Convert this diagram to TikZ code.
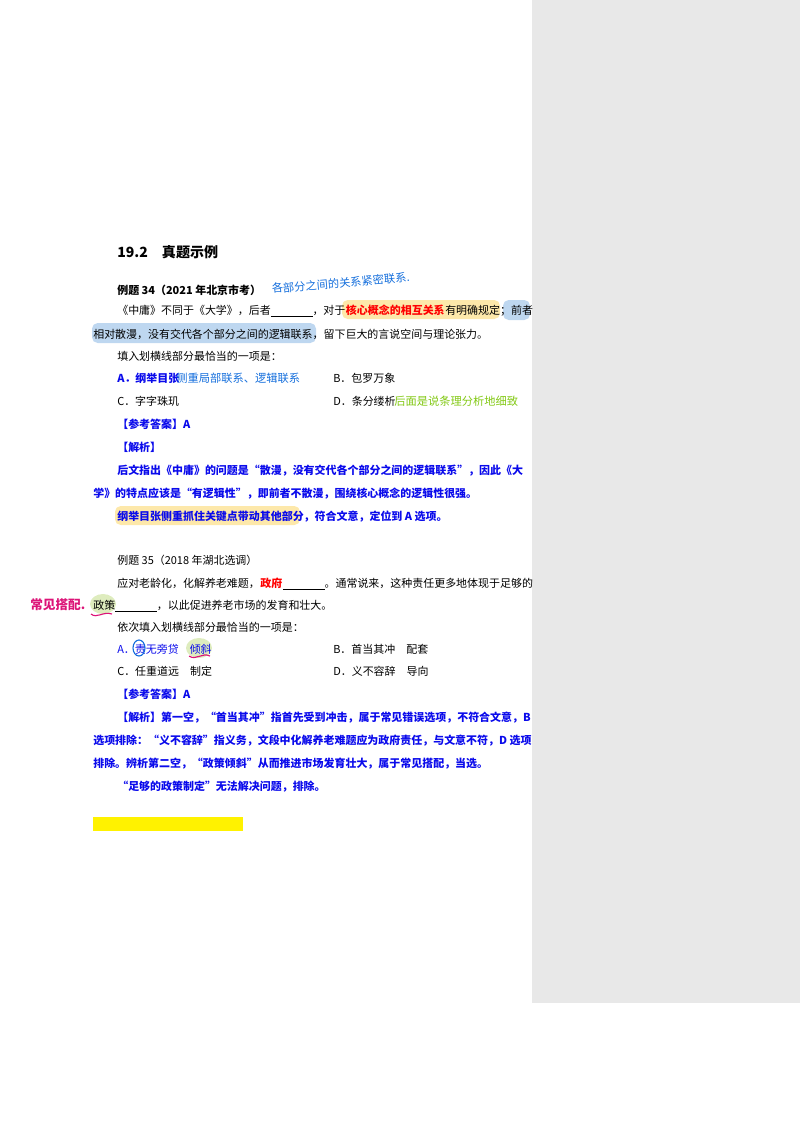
\documentclass[tikz,border=0pt]{standalone}
\usepackage{fontspec}
\newfontfamily\cjk{Noto Sans CJK SC}
\usepackage{tikz}
\usetikzlibrary{positioning}
\definecolor{pageGrey}{RGB}{232,232,232}
\definecolor{ansBlue}{RGB}{10,10,235}
\definecolor{hlYellow}{RGB}{253,232,170}
\definecolor{hlBlue}{RGB}{190,215,240}
\definecolor{hlGreen}{RGB}{222,236,190}
\definecolor{penBlue}{RGB}{20,110,220}
\definecolor{penGreen}{RGB}{130,200,20}
\definecolor{penPink}{RGB}{220,20,120}
\tikzset{
  txt/.style={anchor=base west, inner sep=0pt, font=\cjk\fontsize{7.8}{9}\selectfont},
  ans/.style={txt, text=ansBlue, font=\cjk\bfseries\fontsize{7.8}{9}\selectfont},
  pen/.style={anchor=base west, inner sep=0pt, font=\cjk\fontsize{8}{9}\selectfont},
  hl/.style={rounded corners=4pt, draw=none}
}
\begin{document}
\begin{tikzpicture}[x=0.025cm, y=-0.025cm]
    \useasboundingbox (0,0) rectangle (800,1132);
    \fill[pageGrey] (532,0) rectangle (800,1003);

    % highlights
    \fill[hl, hlYellow] (342,300) rectangle (500,319);
    \fill[hl, hlBlue] (503,300) rectangle (530,320);
    \fill[hl, hlBlue] (92,323) rectangle (316,343);
    \fill[hl, hlYellow] (115,506) rectangle (300,525);
    \fill[hlGreen] (103,604) ellipse (13 and 10);
    \fill[hlGreen] (199,648) ellipse (13 and 10);
    \fill[yellow] (93,817) rectangle (243,831);

    % section 19.2
    \node[txt, font=\cjk\bfseries\fontsize{10}{12}\selectfont] (title) at (117,257) {19.2\quad 真题示例};
    \node[txt, font=\cjk\bfseries\fontsize{7.8}{9}\selectfont] (ex34) at (117,294) {例题 34（2021 年北京市考）};
    \node[txt] (l1a) at (117,314) {《中庸》不同于《大学》，后者\underline{\hspace{3.8em}}，对于};
    \node[txt, text=red, font=\cjk\bfseries\fontsize{7.8}{9}\selectfont, right=0pt of l1a.base east, anchor=base west] (l1b) {核心概念的相互关系};
    \node[txt, right=0pt of l1b.base east, anchor=base west] (l1c) {有明确规定；前者};
    \node[txt] (l2) at (93,338) {相对散漫，没有交代各个部分之间的逻辑联系，留下巨大的言说空间与理论张力。};
    \node[txt] (ask34) at (117,360) {填入划横线部分最恰当的一项是：};
    \node[ans] (a34) at (117,382) {A．纲举目张};
    \node[txt] (b34) at (333,382) {B．包罗万象};
    \node[txt] (c34) at (117,405) {C．字字珠玑};
    \node[txt] (d34) at (333,405) {D．条分缕析};
    \node[ans] (key34) at (117,428) {【参考答案】A};
    \node[ans] (jx34) at (117,451) {【解析】};
    \node[ans] (e1) at (117,474) {后文指出《中庸》的问题是“散漫，没有交代各个部分之间的逻辑联系”，因此《大};
    \node[ans] (e2) at (93,497) {学》的特点应该是“有逻辑性”，即前者不散漫，围绕核心概念的逻辑性很强。};
    \node[ans] (e3) at (117,520) {纲举目张侧重抓住关键点带动其他部分，符合文意，定位到 A 选项。};

    % handwriting 34
    \node[pen, text=penBlue, rotate=5] (n1) at (272,293) {各部分之间的关系紧密联系.};
    \node[pen, text=penBlue] (n2) at (176,382) {侧重局部联系、逻辑联系};
    \node[pen, text=penGreen] (n3) at (394,405) {后面是说条理分析地细致};

    % example 35
    \node[txt] (ex35) at (117,564) {例题 35（2018 年湖北选调）};
    \node[txt] (m1a) at (117,587) {应对老龄化，化解养老难题，};
    \node[txt, text=red, font=\cjk\bfseries\fontsize{7.8}{9}\selectfont, right=0pt of m1a.base east, anchor=base west] (m1b) {政府};
    \node[txt, right=0pt of m1b.base east, anchor=base west] (m1c) {\underline{\hspace{3.8em}}。通常说来，这种责任更多地体现于足够的};
    \node[txt] (m2) at (93,609) {政策\underline{\hspace{3.8em}}，以此促进养老市场的发育和壮大。};
    \node[txt] (ask35) at (117,631) {依次填入划横线部分最恰当的一项是：};
    \node[ans, font=\cjk\fontsize{7.8}{9}\selectfont] (a35) at (117,653) {A．责无旁贷\quad 倾斜};
    \node[txt] (b35) at (333,653) {B．首当其冲\quad 配套};
    \node[txt] (c35) at (117,675) {C．任重道远\quad 制定};
    \node[txt] (d35) at (333,675) {D．义不容辞\quad 导向};
    \node[ans] (key35) at (117,698) {【参考答案】A};
    \node[ans] (f1) at (117,721) {【解析】第一空，“首当其冲”指首先受到冲击，属于常见错误选项，不符合文意，B};
    \node[ans] (f2) at (93,744) {选项排除：“义不容辞”指义务，文段中化解养老难题应为政府责任，与文意不符，D 选项};
    \node[ans] (f3) at (93,767) {排除。辨析第二空，“政策倾斜”从而推进市场发育壮大，属于常见搭配，当选。};
    \node[ans] (f4) at (117,790) {“足够的政策制定”无法解决问题，排除。};

    % handwriting 35
    \node[pen, text=penPink, font=\cjk\bfseries\fontsize{9}{10}\selectfont] (n4) at (30,609) {常见搭配.};
    \draw[penPink, thick] (91,614) .. controls (97,619) and (103,611) .. (112,614);
    \draw[penPink, thick] (189,656) .. controls (196,661) and (202,652) .. (210,656);
    \draw[penBlue, thick] (139,648) ellipse (6 and 8);
\end{tikzpicture}
\end{document}
